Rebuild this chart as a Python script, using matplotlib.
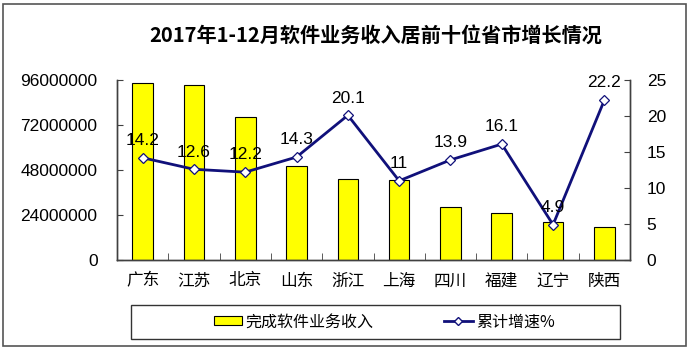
import matplotlib
matplotlib.use("Agg")
import matplotlib.pyplot as plt
from matplotlib.patches import Rectangle, Patch
from matplotlib.lines import Line2D

plt.rcParams['font.family'] = ['Liberation Sans', 'Noto Sans CJK SC', 'DejaVu Sans']

provinces = ['广东', '江苏', '北京', '山东', '浙江', '上海', '四川', '福建', '辽宁', '陕西']
income = [94400000, 93500000, 76400000, 50000000, 43000000, 42800000,
          28200000, 25200000, 20300000, 17600000]
growth = [14.2, 12.6, 12.2, 14.3, 20.1, 11, 13.9, 16.1, 4.9, 22.2]
left_ticks = [0, 24000000, 48000000, 72000000, 96000000]
right_ticks = [0, 5, 10, 15, 20, 25]

navy = '#10107a'

fig = plt.figure(figsize=(6.9, 3.49), dpi=100)
ax = fig.add_axes([117 / 690, 1 - 260 / 349, (630 - 117) / 690, 180 / 349])
ax2 = ax.twinx()

x = range(len(provinces))
ax.bar(x, income, width=0.4, color='#ffff00', edgecolor='black', linewidth=0.8, zorder=2)
ax.set_xlim(-0.5, len(provinces) - 0.5)
ax.set_ylim(0, 96000000)
ax.set_yticks(left_ticks)
ax.set_yticklabels([str(v) for v in left_ticks], fontsize=12.5)
ax.set_xticks(list(x))
ax.set_xticklabels(provinces, fontsize=12, family=['Noto Sans CJK SC'])
ax.set_xticks([i + 0.5 for i in range(len(provinces) - 1)], minor=True)
ax.tick_params(axis='x', which='major', length=0, pad=9)
ax.tick_params(axis='x', which='minor', direction='in', length=5, color='#404040')
ax.tick_params(axis='y', direction='in', length=4, pad=14, color='#404040')

ax2.plot(x, growth, color=navy, linewidth=2, marker='D', markersize=5,
         markerfacecolor='white', markeredgecolor=navy, markeredgewidth=0.9, zorder=3)
ax2.set_ylim(0, 25)
ax2.set_yticks(right_ticks)
ax2.set_yticklabels([str(v) for v in right_ticks], fontsize=12.5)
ax2.tick_params(axis='y', direction='in', length=4, pad=12, color='#404040')
for i, g in enumerate(growth):
    ax2.annotate('%g' % g, (i, g), xytext=(0, 7), textcoords='offset points',
                 ha='center', va='bottom', fontsize=12.5)

for a in (ax, ax2):
    a.spines['top'].set_visible(False)
    for s in ('left', 'right', 'bottom'):
        a.spines[s].set_color('#404040')
        a.spines[s].set_linewidth(1)

fig.text(376 / 690, 1 - 35 / 349, '2017年1-12月软件业务收入居前十位省市增长情况',
         ha='center', va='center', fontsize=14.5, fontweight='bold',
         family=['Noto Sans CJK SC'])

# legend box
fig.patches.append(Rectangle((131 / 690, 1 - 339 / 349), 489 / 690, 34 / 349,
                             transform=fig.transFigure, fill=False,
                             edgecolor='#333333', linewidth=1))
handles = [Patch(facecolor='#ffff00', edgecolor='black', linewidth=0.8),
           Line2D([], [], color=navy, linewidth=2, marker='D', markersize=4.5,
                  markerfacecolor='white', markeredgecolor=navy)]
fig.legend(handles, ['完成软件业务收入', '累计增速%'], loc='center',
           bbox_to_anchor=(384 / 690, 1 - 322 / 349), ncol=2, frameon=False,
           prop={'family': ['Noto Sans CJK SC'], 'size': 11.5},
           handlelength=1.8, handleheight=0.5, columnspacing=4.4, handletextpad=0.2)

# outer frame
fig.patches.append(Rectangle((3 / 690, 3 / 349), 683 / 690, 342 / 349,
                             transform=fig.transFigure, fill=False,
                             edgecolor='#555555', linewidth=1.2))

fig.savefig('out.png', dpi=100)
